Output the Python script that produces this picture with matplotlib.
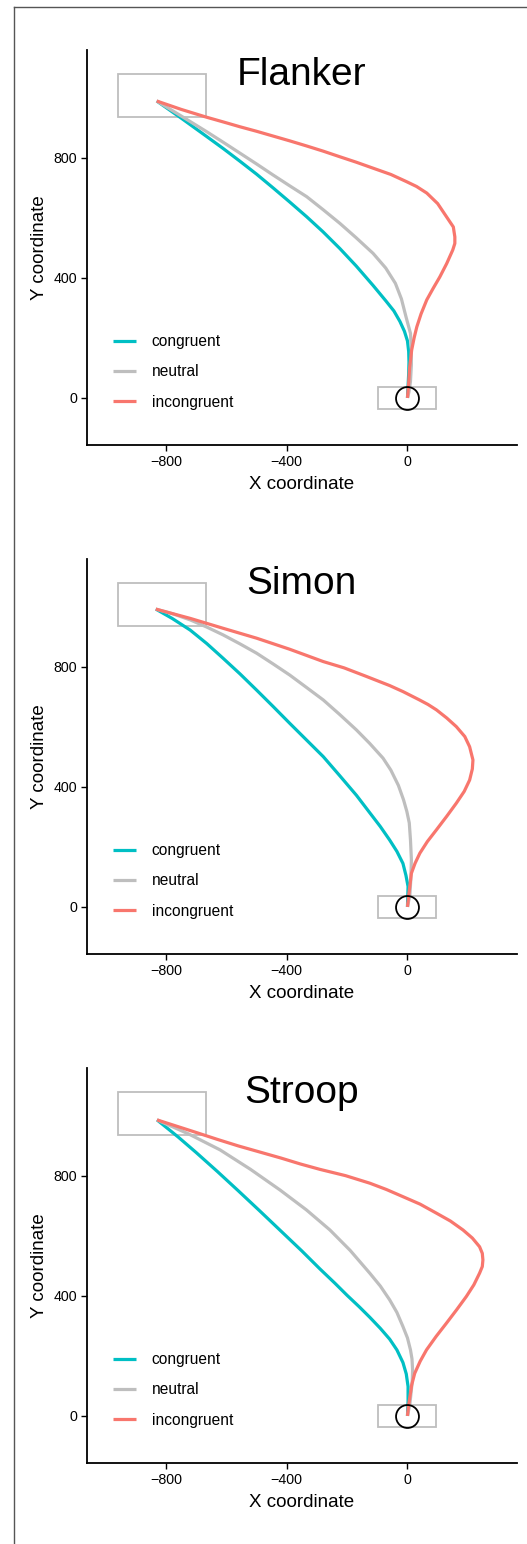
import matplotlib.pyplot as plt
from matplotlib.patches import Rectangle
from matplotlib.lines import Line2D

plt.rcParams['font.family'] = ['Liberation Sans', 'DejaVu Sans']

# trajectory data (x, y), start at origin
flanker_congruent_x = [0, 2, 4, 5, 4, 0, -10, -25, -45, -72, -114, -170, -224, -280, -334, -390, -445, -500, -555, -610, -666, -750, -831]
flanker_congruent_y = [0, 40, 80, 120, 155, 190, 222, 255, 290, 324, 375, 440, 498, 554, 604, 653, 700, 746, 789, 831, 872, 933, 990]
flanker_neutral_x = [0, 5, 10, 13, 13, 10, -5, -20, -40, -72, -114, -170, -224, -280, -334, -390, -445, -500, -555, -610, -666, -750, -831]
flanker_neutral_y = [0, 20, 55, 110, 160, 215, 271, 330, 382, 433, 482, 534, 582, 628, 671, 707, 743, 780, 816, 852, 888, 940, 990]
flanker_incongruent_x = [0, 4, 7, 14, 22, 31, 45, 64, 85, 107, 130, 150, 157, 157, 152, 130, 100, 64, 30, -3, -55, -114, -170, -224, -280,
                         -334, -390, -445, -500, -555, -610, -666, -750, -831]
flanker_incongruent_y = [0, 50, 100, 160, 200, 237, 280, 327, 365, 403, 448, 493, 515, 537, 570, 603, 648, 683, 705, 721, 745, 766, 786, 804, 823,
                         840, 857, 873, 889, 904, 920, 936, 962, 990]

simon_congruent_x = [0, 1, 2, -5, -15, -35, -59, -90, -125, -169, -224, -279, -335, -390, -445, -500, -555, -611, -665, -720, -780, -834]
simon_congruent_y = [0, 35, 68, 105, 145, 185, 223, 268, 314, 372, 437, 501, 557, 612, 668, 723, 777, 829, 878, 923, 962, 993]
simon_neutral_x = [0, 8, 11, 13, 10, 6, -2, -13, -30, -55, -81, -125, -169, -224, -279, -335, -390, -445, -500, -555, -611, -665, -720, -777, -834]
simon_neutral_y = [0, 40, 90, 157, 223, 280, 318, 357, 405, 456, 496, 545, 590, 641, 690, 732, 773, 810, 846, 877, 907, 933, 957, 977, 993]
simon_incongruent_x = [0, 5, 13, 25, 41, 66, 96, 130, 162, 188, 206, 215, 217, 206, 190, 162, 130, 96, 68, 40, -15, -59, -140, -210, -279,
                       -390, -500, -611, -720, -834]
simon_incongruent_y = [0, 46, 112, 145, 179, 218, 257, 302, 346, 385, 423, 460, 490, 534, 568, 601, 630, 657, 675, 690, 718, 738, 770, 797, 818,
                       859, 896, 929, 962, 993]

stroop_congruent_x = [0, 2, 2, -4, -15, -35, -59, -90, -125, -160, -200, -240, -290, -350, -420, -490, -560, -630, -700, -760, -830]
stroop_congruent_y = [0, 50, 98, 140, 178, 220, 256, 292, 329, 364, 402, 442, 490, 550, 617, 684, 750, 815, 878, 930, 987]
stroop_neutral_x = [0, 8, 13, 16, 17, 15, 10, 0, -15, -35, -59, -90, -125, -190, -257, -335, -422, -520, -621, -725, -830]
stroop_neutral_y = [0, 40, 87, 120, 153, 190, 220, 260, 298, 345, 387, 433, 476, 552, 620, 687, 753, 822, 887, 940, 987]
stroop_incongruent_x = [0, 3, 8, 14, 24, 42, 63, 95, 129, 163, 195, 220, 239, 248, 250, 248, 239, 215, 184, 142, 96, 42, -15, -70, -125,
                        -205, -290, -355, -420, -490, -560, -630, -700, -765, -830]
stroop_incongruent_y = [0, 30, 64, 103, 142, 182, 220, 265, 309, 354, 398, 437, 476, 498, 520, 542, 564, 593, 620, 650, 676, 706, 731, 755, 776,
                        801, 822, 840, 860, 880, 900, 922, 945, 966, 987]

tasks = ['Flanker', 'Simon', 'Stroop']
conditions = ['congruent', 'neutral', 'incongruent']
colors = {'congruent': '#00BFC4', 'neutral': '#BEBEBE', 'incongruent': '#F8766D'}

curves = {
    'Flanker': [(flanker_congruent_x, flanker_congruent_y),
                (flanker_neutral_x, flanker_neutral_y),
                (flanker_incongruent_x, flanker_incongruent_y)],
    'Simon': [(simon_congruent_x, simon_congruent_y),
              (simon_neutral_x, simon_neutral_y),
              (simon_incongruent_x, simon_incongruent_y)],
    'Stroop': [(stroop_congruent_x, stroop_congruent_y),
               (stroop_neutral_x, stroop_neutral_y),
               (stroop_incongruent_x, stroop_incongruent_y)],
}

# response / start boxes (x, y, w, h)
resp_box = (-958, 936, 289, 144)
start_box = (-96, -37, 192, 73)


def draw_panel(ax, task):
    ax.add_patch(Rectangle(resp_box[:2], resp_box[2], resp_box[3],
                           fill=False, edgecolor='#BEBEBE', linewidth=1.3))
    ax.add_patch(Rectangle(start_box[:2], start_box[2], start_box[3],
                           fill=False, edgecolor='#BEBEBE', linewidth=1.3))
    for cond, (xs, ys) in zip(conditions, curves[task]):
        ax.plot(xs, ys, color=colors[cond], linewidth=2.3, label=cond,
                solid_capstyle='butt', solid_joinstyle='round')
    ax.plot([0], [0], marker='o', markersize=16.5, markerfacecolor='none',
            markeredgecolor='black', markeredgewidth=1.3, linestyle='none')

    ax.text(-350, 1078, task, fontsize=28, ha='center', va='center')

    ax.set_xlim(-1063, 362)
    ax.set_ylim(-157, 1160)
    ax.set_xticks([-800, -400, 0])
    ax.set_yticks([0, 400, 800])
    ax.set_xticklabels(['\u2212800', '\u2212400', '0'])
    ax.tick_params(labelsize=10.3, length=4, width=1, color='black', pad=3)
    ax.set_xlabel('X coordinate', fontsize=13.5, labelpad=5)
    ax.set_ylabel('Y coordinate', fontsize=13.5, labelpad=4)
    for s in ['top', 'right']:
        ax.spines[s].set_visible(False)
    for s in ['left', 'bottom']:
        ax.spines[s].set_linewidth(1.3)

    ax.legend(loc='center left', bbox_to_anchor=(0.061, 0.185), frameon=False,
              fontsize=11.2, handlelength=1.5, handletextpad=1.0,
              labelspacing=0.97, borderpad=0, borderaxespad=0)


W, H = 527, 1544
fig = plt.figure(figsize=(W / 100, H / 100), dpi=100)

for i, task in enumerate(tasks):
    top_px = 50 + 509 * i
    bot_px = 445 + 509 * i
    ax = fig.add_axes([86.7 / W, 1 - bot_px / H, 430 / W, (bot_px - top_px) / H])
    draw_panel(ax, task)

# outer frame (top and left edge)
fig.add_artist(Line2D([14 / W, 1], [1 - 7 / H, 1 - 7 / H], color='#555555', linewidth=1))
fig.add_artist(Line2D([14 / W, 14 / W], [0, 1 - 7 / H], color='#555555', linewidth=1))

fig.savefig('out.png', dpi=100)
